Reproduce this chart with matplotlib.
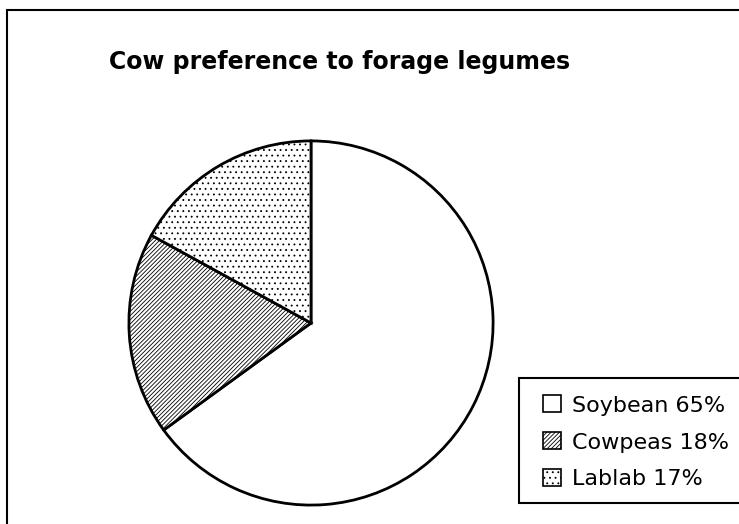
import matplotlib.pyplot as plt
from matplotlib.patches import Rectangle

# data
crops = ["Soybean", "Cowpeas", "Lablab"]
shares = [65, 18, 17]
hatches = ["", "////////", "..."]

plt.rcParams["hatch.linewidth"] = 0.6

W, H = 739, 524
fig = plt.figure(figsize=(W / 100, H / 100), dpi=100)

# outer chart frame (right/bottom edges fall outside the picture)
fig.patches.append(Rectangle((7 / W, -0.2), 1.2, 1.2 - 10 / H,
                             transform=fig.transFigure, fill=False,
                             edgecolor="black", linewidth=1.5))

fig.text(340 / W, 1 - 62 / H, "Cow preference to forage legumes",
         ha="center", va="center", fontsize=17, fontweight="bold")

# pie axes: centre (311, 323), radius 183 px
r = 183
ax = fig.add_axes([(311 - r) / W, (H - 323 - r) / H, 2 * r / W, 2 * r / H])
wedges, _ = ax.pie(shares, startangle=90, counterclock=False, colors=["white"] * 3,
                   wedgeprops=dict(edgecolor="black", linewidth=2))
for w, h in zip(wedges, hatches):
    w.set_hatch(h)
ax.set_xlim(-1.005, 1.005)
ax.set_ylim(-1.005, 1.005)
ax.set_aspect("equal")
ax.axis("off")

# legend box runs off the right edge of the picture
fig.patches.append(Rectangle((519 / W, 1 - 503 / H), 0.5, 125 / H,
                             transform=fig.transFigure, facecolor="white",
                             edgecolor="black", linewidth=1.5, zorder=3))
labels = [f"{c} {s}%" for c, s in zip(crops, shares)]
leg = fig.legend(wedges, labels, loc="upper left",
                 bbox_to_anchor=(539 / W, 1 - 391 / H),
                 fontsize=16, frameon=False,
                 handlelength=0.8, handleheight=0.8,
                 handletextpad=0.5, labelspacing=0.75, borderpad=0.2,
                 borderaxespad=0)
leg.set_zorder(4)
for hnd in leg.legend_handles:
    hnd.set_linewidth(1.2)

fig.savefig("out.png", dpi=100)
